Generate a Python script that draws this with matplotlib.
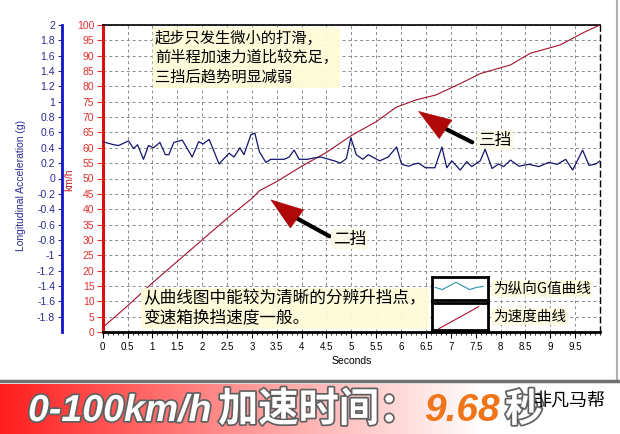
import numpy as np
import matplotlib
matplotlib.use('Agg')
import matplotlib.pyplot as plt
import matplotlib.patheffects as pe
from matplotlib.ticker import MultipleLocator, FixedLocator
from matplotlib.colors import LinearSegmentedColormap
from matplotlib.lines import Line2D

plt.rcParams['font.family'] = ['Liberation Sans', 'Noto Sans CJK SC']
CJK = ['Noto Sans CJK SC', 'DejaVu Sans']

# speed curve (km/h)
speed_time = [0, 0.5, 1, 1.5, 2, 2.5, 3, 3.15, 3.5, 4, 4.5, 5, 5.5, 5.9, 6.3, 6.7,
              7.2, 7.6, 8.2, 8.6, 9.2, 9.7, 10]
speed_kmh = [1.5, 8.5, 16, 23, 30, 37, 43.5, 46, 49, 54, 58.5, 64, 68.5, 73.2, 75.6,
             77.2, 81, 84.2, 87, 90.8, 93.5, 97.8, 100]

# longitudinal acceleration (g)
g_time = [0.0, 0.22, 0.32, 0.52, 0.62, 0.70, 0.82, 0.92, 1.02, 1.15, 1.26, 1.33, 1.43,
          1.60, 1.80, 1.93, 2.02, 2.14, 2.34, 2.54, 2.64, 2.76, 2.84, 2.98, 3.06, 3.15,
          3.28, 3.38, 3.65, 3.75, 3.85, 3.95, 4.12, 4.26, 4.39, 4.49, 4.66, 4.78, 4.90,
          4.99, 5.10, 5.23, 5.34, 5.57, 5.74, 5.91, 6.01, 6.15, 6.25, 6.35, 6.49, 6.68,
          6.82, 6.92, 7.02, 7.19, 7.32, 7.42, 7.59, 7.69, 7.83, 7.96, 8.06, 8.20, 8.37,
          8.57, 8.77, 8.97, 9.14, 9.31, 9.45, 9.65, 9.78, 9.92, 10.0]
g_val = [0.48, 0.44, 0.43, 0.49, 0.39, 0.44, 0.25, 0.43, 0.40, 0.47, 0.31, 0.31, 0.47,
         0.50, 0.28, 0.48, 0.45, 0.51, 0.19, 0.33, 0.28, 0.40, 0.31, 0.57, 0.59, 0.35,
         0.21, 0.25, 0.25, 0.28, 0.37, 0.25, 0.25, 0.27, 0.28, 0.26, 0.23, 0.20, 0.26,
         0.53, 0.31, 0.25, 0.31, 0.23, 0.28, 0.41, 0.185, 0.16, 0.185, 0.20, 0.14, 0.14,
         0.41, 0.14, 0.23, 0.11, 0.22, 0.155, 0.23, 0.38, 0.13, 0.19, 0.155, 0.24, 0.16,
         0.185, 0.155, 0.21, 0.185, 0.25, 0.11, 0.37, 0.17, 0.19, 0.23]

x_ticks = [0, 0.5, 1, 1.5, 2, 2.5, 3, 3.5, 4, 4.5, 5, 5.5, 6, 6.5, 7, 7.5, 8, 8.5, 9, 9.5]
g_ticks = [2, 1.8, 1.6, 1.4, 1.2, 1, 0.8, 0.6, 0.4, 0.2, 0, -0.2, -0.4, -0.6, -0.8,
           -1, -1.2, -1.4, -1.6, -1.8]

# little legend samples
legend_wave = [0.55, 0.45, 0.62, 0.8, 0.62, 0.45, 0.55, 0.6]
legend_ramp = [0.0, 0.3, 0.6, 0.9]

note_top = '起步只发生微小的打滑，\n前半程加速力道比较充足，\n三挡后趋势明显减弱'
note_bottom = '从曲线图中能较为清晰的分辨升挡点，\n变速箱换挡速度一般。'

# gear marks: label position, shaft start, head base, head tip (seconds, km/h)
gear_notes = [
    ('二挡', (4.96, 30.3), (4.56, 31.2), (3.85, 37.5), (3.37, 43.2)),
    ('三挡', (7.89, 62.5), (7.43, 61.8), (6.82, 66.8), (6.34, 72.0)),
]

W, H = 620, 434
fig = plt.figure(figsize=(W / 100, H / 100), dpi=100)
fig.patch.set_facecolor('white')

ax = fig.add_axes([102.7 / W, 1 - 332 / H, 497.3 / W, 307 / H])
ax.plot(speed_time, speed_kmh, color='#a0102a', lw=0.8, zorder=3)
ax.set_xlim(0, 10)
ax.set_ylim(0, 100)
ax.xaxis.set_major_locator(FixedLocator(x_ticks))
ax.set_xticklabels([f'{v:g}' for v in x_ticks])
ax.xaxis.set_minor_locator(MultipleLocator(0.1))
ax.yaxis.set_major_locator(MultipleLocator(5))
ax.grid(True, which='major', color='#8a8a8a', ls=(0, (3, 3)), lw=0.7)
ax.tick_params(axis='x', which='major', length=4, width=0.8, labelsize=7, pad=3)
ax.tick_params(axis='x', which='minor', length=2, width=0.6)
ax.tick_params(axis='y', which='major', length=4, width=0.8, labelsize=7.5,
               colors='#e03030', pad=2)
ax.spines['left'].set_color('#d81010')
ax.spines['left'].set_linewidth(2.2)
ax.spines['bottom'].set_linewidth(2)
ax.spines['top'].set_linewidth(1.2)
ax.spines['right'].set_linestyle((0, (4, 3)))
ax.spines['right'].set_linewidth(1)
ax.set_xlabel('Seconds', fontsize=7.5, labelpad=3)
ax.set_ylabel('km/h', fontsize=7.5, color='#c02020')
ax.yaxis.set_label_coords(-0.057, 0.495)

ax2 = ax.twinx()
ax2.plot(g_time, g_val, color='#14146e', lw=0.9)
ax2.set_ylim(-2, 2)
ax2.yaxis.tick_left()
ax2.yaxis.set_label_position('left')
ax2.yaxis.set_major_locator(FixedLocator(g_ticks))
ax2.set_yticklabels([f'{v:g}' for v in g_ticks])
ax2.yaxis.set_minor_locator(MultipleLocator(0.04))
ax2.spines['left'].set_position(('outward', 29.3))
ax2.spines['left'].set_color('#1414c8')
ax2.spines['left'].set_linewidth(2)
for s in ['right', 'top', 'bottom']:
    ax2.spines[s].set_visible(False)
ax2.tick_params(axis='y', which='major', length=3, width=0.8, labelsize=7.5,
                colors='#2a2a90', pad=2)
ax2.tick_params(axis='y', which='minor', length=1.5, width=0.5, color='#2a2a90',
                direction='inout')
ax2.set_ylabel('Longitudinal Acceleration (g)', fontsize=7.5, color='#2a2a90')
ax2.yaxis.set_label_coords(-0.154, 0.479)

# notes
glow = dict(boxstyle='round,pad=0.15', facecolor='#fdfbd8', edgecolor='none', alpha=0.95)
ax.text(1.05, 98.5, note_top, family=CJK, fontsize=11, style='italic', va='top',
        ha='left', linespacing=1.2, bbox=glow, zorder=5)
ax.text(0.82, 13.5, note_bottom, family=CJK, fontsize=12, va='top', ha='left',
        linespacing=1.15, bbox=glow, zorder=5)

# gear-change arrows: black shaft, red head
for label, txt, shaft, base, tip in gear_notes:
    ax.annotate('', xy=base, xytext=shaft,
                arrowprops=dict(arrowstyle='-', color='black', lw=3,
                                shrinkA=0, shrinkB=0), zorder=6)
    ax.annotate('', xy=tip, xytext=base,
                arrowprops=dict(arrowstyle='-|>,head_length=2.3,head_width=0.8',
                                color='#b00808', lw=0.5, mutation_scale=10,
                                shrinkA=0, shrinkB=0), zorder=7)
    ax.text(*txt, label, family=CJK, fontsize=12, ha='center', va='center',
            bbox=dict(boxstyle='round,pad=0.1', facecolor='#fdfbe8', edgecolor='none',
                      alpha=0.9), zorder=6)

# legend boxes
for (top, bot), vals, col, label in [((277, 300), legend_wave, '#2a8fa8', '为纵向G值曲线'),
                                     ((303, 330), legend_ramp, '#b01030', '为速度曲线')]:
    lax = fig.add_axes([432 / W, 1 - bot / H, 56 / W, (bot - top) / H])
    lax.plot(range(len(vals)), vals, color=col, lw=0.8)
    lax.set_xlim(-0.5, len(vals) - 0.3)
    lax.set_ylim(-0.05, 1.05)
    lax.set_xticks([])
    lax.set_yticks([])
    for s in lax.spines.values():
        s.set_linewidth(2)
    fig.text(493 / W, 1 - (top + bot) / 2 / H, label, family=CJK, fontsize=10.5,
             va='center', ha='left',
             bbox=dict(boxstyle='round,pad=0.1', facecolor='#fdfbe0', edgecolor='none'))

# frame lines around the chart
fig.add_artist(Line2D([617 / W, 617 / W], [1 - 381 / H, 1], color='#b0b0b0', lw=1.5))
fig.add_artist(Line2D([0, 1], [1 - 381 / H, 1 - 381 / H], color='#707070', lw=2.5))

# bottom banner
bax = fig.add_axes([0, 0, 1, 50 / H])
cmap = LinearSegmentedColormap.from_list('banner', [(0, '#ff1e1e'), (0.35, '#ff8a8a'),
                                                    (0.78, '#ffffff'), (1, '#ffffff')])
bax.imshow(np.linspace(0, 1, 256).reshape(1, -1), aspect='auto', cmap=cmap,
           extent=[0, 1, 0, 1])
bax.set_axis_off()

shadow = [pe.withStroke(linewidth=2.5, foreground='#606060')]
fig.text(28 / W, 1 - 411 / H, '0-100km/h', fontsize=27, weight='bold', style='italic',
         family='Liberation Sans', color='white', va='center', ha='left',
         path_effects=shadow)
fig.text(218 / W, 1 - 410 / H, '加速时间：', fontsize=29, weight='heavy', family=CJK,
         color='white', va='center', ha='left', path_effects=shadow)
fig.text(424 / W, 1 - 411 / H, '9.68', fontsize=28, weight='bold', style='italic',
         family='Liberation Sans', color='#f07418', va='center', ha='left')
fig.text(505 / W, 1 - 410 / H, '秒', fontsize=28, weight='heavy', family=CJK,
         color='white', va='center', ha='left', path_effects=shadow)
fig.text(534 / W, 1 - 401 / H, '非凡马帮', fontsize=13, family=CJK, color='black',
         va='center', ha='left')

fig.savefig('out.png', dpi=100)
